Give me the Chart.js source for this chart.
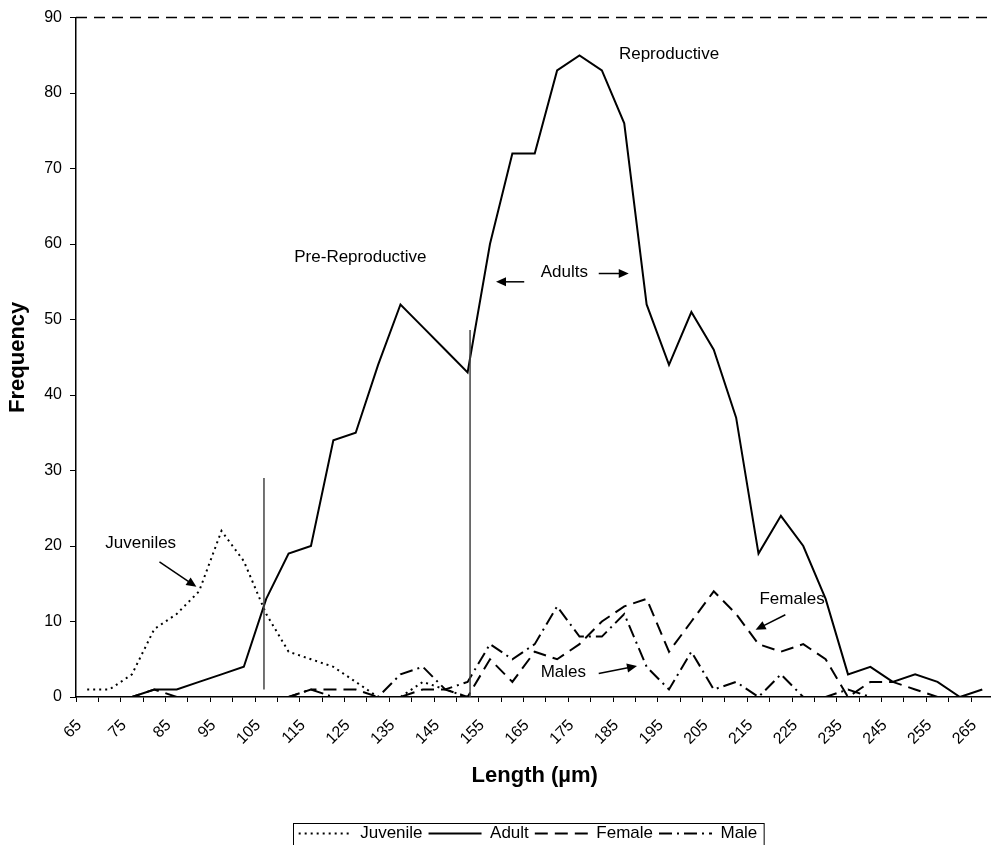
<!DOCTYPE html>
<html>
<head>
<meta charset="utf-8">
<script src="https://cdn.jsdelivr.net/npm/chart.js@4.4.1/dist/chart.umd.min.js"></script>
<style>
  html, body { margin: 0; padding: 0; background: #fff; overflow: hidden; }
  #wrap { width: 1010px; height: 845px; }
</style>
</head>
<body>
<div id="wrap"><canvas id="myChart" width="1010" height="845"></canvas></div>
<script>
// length classes (µm)
const lengths = ['65', '70', '75', '80', '85', '90', '95', '100', '105', '110',
    '115', '120', '125', '130', '135', '140', '145', '150', '155', '160',
    '165', '170', '175', '180', '185', '190', '195', '200', '205', '210',
    '215', '220', '225', '230', '235', '240', '245', '250', '255', '260', '265']

// only every other class gets a label
const tickLabels = ['65', '', '75', '', '85', '', '95', '', '105', '',
    '115', '', '125', '', '135', '', '145', '', '155', '',
    '165', '', '175', '', '185', '', '195', '', '205', '',
    '215', '', '225', '', '235', '', '245', '', '255', '', '265']

const juvenile = [1, 1, 3, 9, 11, 14, 22, 18, 11, 6,
    5, 4, 2, 0, 0, 2, 1, 0, 0, 0,
    0, 0, 0, 0, 0, 0, 0, 0, 0, 0,
    0, 0, 0, 0, 0, 0, 0, 0, 0, 0, 0]

const adult = [0, 0, 0, 1, 1, 2, 3, 4, 13, 19,
    20, 34, 35, 44, 52, 49, 46, 43, 60, 72,
    72, 83, 85, 83, 76, 52, 44, 51, 46, 37,
    19, 24, 20, 13, 3, 4, 2, 3, 2, 0, 1]

const female = [0, 0, 0, 1, 0, 0, 0, 0, 0, 0,
    1, 1, 1, 0, 0, 1, 1, 0, 5, 2,
    6, 5, 7, 10, 12, 13, 6, 10, 14, 11,
    7, 6, 7, 5, 0, 2, 2, 1, 0, 0, 0]

const male = [0, 0, 0, 0, 0, 0, 0, 0, 0, 0,
    1, 0, 0, 0, 3, 4, 1, 2, 7, 5,
    7, 12, 8, 8, 11, 4, 1, 6, 1, 2,
    0, 3, 0, 0, 1, 0, 0, 0, 0, 0, 0]

const yTicks = [0, 10, 20, 30, 40, 50, 60, 70, 80, 90]

const FONT = 'Arial, "Liberation Sans", sans-serif'

// text notes and arrows, in (class index, frequency) units
const notes = [
    { text: 'Juveniles', x: 2.39, y: 20.4 },
    { text: 'Pre-Reproductive', x: 12.21, y: 58.2 },
    { text: 'Reproductive', x: 26.0, y: 85.1 },
    { text: 'Adults', x: 21.32, y: 56.2 },
    { text: 'Males', x: 21.28, y: 3.3 },
    { text: 'Females', x: 31.5, y: 12.9 }
]
const arrows = [
    [3.23, 17.9, 4.88, 14.6],
    [19.53, 55.0, 18.27, 55.0],
    [22.86, 56.1, 24.2, 56.1],
    [22.86, 3.1, 24.57, 4.1],
    [31.2, 10.9, 29.87, 8.9]
]
const dividers = [
    [7.9, 1, 29],
    [17.11, 0, 48.6]
]

const LEGEND_CENTER = 528

function drawArrow(ctx, x1, y1, x2, y2) {
    const a = Math.atan2(y2 - y1, x2 - x1)
    const len = 10
    ctx.beginPath()
    ctx.moveTo(x1, y1)
    ctx.lineTo(x2 - Math.cos(a) * len * 0.8, y2 - Math.sin(a) * len * 0.8)
    ctx.stroke()
    ctx.beginPath()
    ctx.moveTo(x2, y2)
    ctx.lineTo(x2 - len * Math.cos(a) + 4.5 * Math.sin(a), y2 - len * Math.sin(a) - 4.5 * Math.cos(a))
    ctx.lineTo(x2 - len * Math.cos(a) - 4.5 * Math.sin(a), y2 - len * Math.sin(a) + 4.5 * Math.cos(a))
    ctx.closePath()
    ctx.fill()
}

const extras = {
    id: 'extras',
    afterLayout(chart) {
        const lg = chart.legend
        const shift = LEGEND_CENTER - (lg.left + lg.right) / 2
        lg.left += shift
        lg.right += shift
    },
    afterDatasetsDraw(chart) {
        const ctx = chart.ctx
        const xs = chart.scales.x
        const ys = chart.scales.y
        const area = chart.chartArea
        ctx.save()

        // dashed plot frame
        ctx.strokeStyle = '#000'
        ctx.lineWidth = 1.5
        ctx.setLineDash([11, 7])
        ctx.beginPath()
        ctx.moveTo(area.left, area.top)
        ctx.lineTo(area.right, area.top)
        ctx.lineTo(area.right, area.bottom)
        ctx.stroke()
        ctx.setLineDash([])

        // stage dividers
        ctx.strokeStyle = '#444'
        ctx.lineWidth = 1.5
        dividers.forEach(d => {
            const px = xs.getPixelForValue(d[0])
            ctx.beginPath()
            ctx.moveTo(px, ys.getPixelForValue(d[1]))
            ctx.lineTo(px, ys.getPixelForValue(d[2]))
            ctx.stroke()
        })

        ctx.fillStyle = '#000'
        ctx.strokeStyle = '#000'
        ctx.lineWidth = 1.5
        arrows.forEach(a => {
            drawArrow(ctx, xs.getPixelForValue(a[0]), ys.getPixelForValue(a[1]),
                xs.getPixelForValue(a[2]), ys.getPixelForValue(a[3]))
        })

        ctx.font = '17px ' + FONT
        ctx.textAlign = 'center'
        ctx.textBaseline = 'middle'
        notes.forEach(n => {
            ctx.fillText(n.text, xs.getPixelForValue(n.x), ys.getPixelForValue(n.y))
        })
        ctx.restore()
    },
    afterDraw(chart) {
        const lg = chart.legend
        const pad = lg.options.labels.padding
        const w = lg.lineWidths[0] - pad
        const x0 = (lg.left + lg.right) / 2 - w / 2 - 6
        const ctx = chart.ctx
        ctx.save()
        ctx.strokeStyle = '#000'
        ctx.lineWidth = 1
        ctx.strokeRect(Math.round(x0) + 0.5, Math.round(lg.top + pad - 2) + 0.5, w + 12, 60)
        ctx.restore()
    }
}

const ctx = document.getElementById('myChart').getContext('2d')
const myChart = new Chart(ctx, {
    type: 'line',
    data: {
        labels: lengths,
        datasets: [{
            label: 'Juvenile',
            data: juvenile,
            borderColor: '#000',
            backgroundColor: '#000',
            borderWidth: 2,
            borderDash: [2, 4]
        }, {
            label: 'Adult',
            data: adult,
            borderColor: '#000',
            backgroundColor: '#000',
            borderWidth: 2
        }, {
            label: 'Female',
            data: female,
            borderColor: '#000',
            backgroundColor: '#000',
            borderWidth: 2,
            borderDash: [13, 7]
        }, {
            label: 'Male',
            data: male,
            borderColor: '#000',
            backgroundColor: '#000',
            borderWidth: 2,
            borderDash: [13, 5, 2, 5]
        }]
    },
    options: {
        responsive: false,
        animation: false,
        events: [],
        elements: {
            point: { radius: 0 },
            line: { tension: 0 }
        },
        layout: {
            padding: { top: 16, right: 11.5, bottom: -7, left: 0 }
        },
        scales: {
            x: {
                offset: true,
                grid: {
                    offset: true,
                    drawOnChartArea: false,
                    tickLength: 5,
                    color: '#000'
                },
                border: { color: '#000', width: 1.5 },
                ticks: {
                    autoSkip: false,
                    minRotation: 45,
                    maxRotation: 45,
                    labelOffset: -8,
                    padding: 14,
                    color: '#000',
                    font: { family: FONT, size: 16 },
                    callback: (v, i) => tickLabels[i]
                },
                title: {
                    display: true,
                    text: 'Length (µm)',
                    color: '#000',
                    font: { family: FONT, size: 22, weight: 'bold' },
                    padding: { top: 0, bottom: 30 }
                },
                afterFit: s => { s.height = 122 }
            },
            y: {
                min: 0,
                max: 90,
                afterBuildTicks: s => { s.ticks = yTicks.map(v => ({ value: v })) },
                grid: {
                    drawOnChartArea: false,
                    tickLength: 6,
                    color: '#000'
                },
                border: { color: '#000', width: 1.5 },
                ticks: {
                    padding: 8,
                    color: '#000',
                    font: { family: FONT, size: 16 }
                },
                title: {
                    display: true,
                    text: 'Frequency',
                    color: '#000',
                    font: { family: FONT, size: 22, weight: 'bold' },
                    padding: { top: 5, bottom: 0 }
                },
                afterFit: s => { s.width = 76 }
            }
        },
        plugins: {
            legend: {
                position: 'bottom',
                labels: {
                    usePointStyle: true,
                    pointStyle: 'line',
                    pointStyleWidth: 53,
                    padding: 6,
                    color: '#000',
                    font: { family: FONT, size: 17 },
                    generateLabels: chart => Chart.defaults.plugins.legend.labels.generateLabels(chart).map(item => {
                        item.lineDash = chart.data.datasets[item.datasetIndex].borderDash || []
                        item.lineWidth = 2
                        return item
                    })
                }
            },
            tooltip: { enabled: false }
        }
    },
    plugins: [extras]
})
</script>
</body>
</html>
